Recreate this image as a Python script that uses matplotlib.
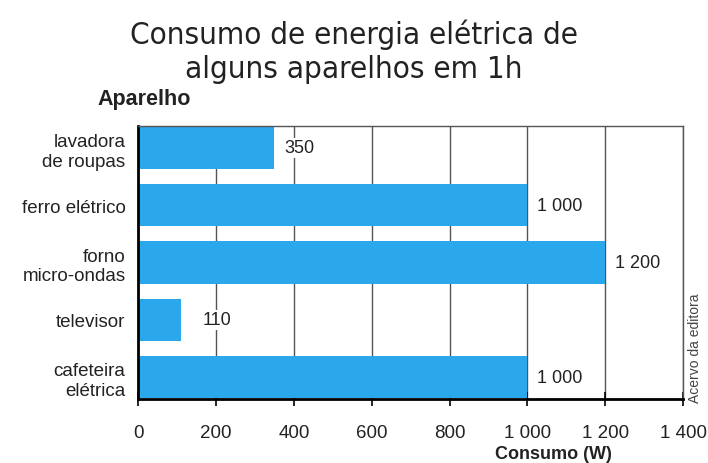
import matplotlib.pyplot as plt

aparelhos = ['lavadora\nde roupas', 'ferro elétrico', 'forno\nmicro-ondas', 'televisor', 'cafeteira\nelétrica']
consumo = [350, 1000, 1200, 110, 1000]
rotulos = ['350', '1 000', '1 200', '110', '1 000']
xticks = [0, 200, 400, 600, 800, 1000, 1200, 1400]
xtick_labels = ['0', '200', '400', '600', '800', '1 000', '1 200', '1 400']

plt.rcParams['font.family'] = ['Liberation Sans', 'DejaVu Sans']

fig = plt.figure(figsize=(7.08, 4.64), dpi=100)
ax = fig.add_axes([0.195, 0.138, 0.770, 0.588])

pos = list(range(len(aparelhos)))
ax.barh(pos, consumo, height=0.74, color='#2ba8ec', zorder=2)
for p, v, r in zip(pos, consumo, rotulos):
    # televisor label sits a bit further out in the original
    dx = 55 if v < 200 else 25
    ax.text(v + dx, p, r, va='center', ha='left', fontsize=13, color='#222222', zorder=3,
            bbox=dict(facecolor='white', edgecolor='none', pad=1))

ax.set_xlim(0, 1400)
ax.set_ylim(len(aparelhos) - 0.62, -0.38)
ax.set_yticks(pos)
ax.set_yticklabels(aparelhos, fontsize=13.5, color='#222222')
ax.set_xticks(xticks)
ax.set_xticklabels(xtick_labels, fontsize=13.5, color='#222222')
ax.tick_params(axis='y', length=0, pad=9)
ax.tick_params(axis='x', direction='inout', length=10, width=1.2, pad=13)

ax.grid(axis='x', color='#555555', linewidth=1.0, zorder=1)
ax.set_axisbelow(True)
for s in ['top', 'right']:
    ax.spines[s].set_color('#555555')
    ax.spines[s].set_linewidth(1.0)
ax.spines['left'].set_linewidth(2)
ax.spines['bottom'].set_linewidth(2)

fig.text(0.5, 0.888, 'Consumo de energia elétrica de\nalguns aparelhos em 1h', ha='center', va='center',
         fontsize=22.5, family='DejaVu Sans', stretch='condensed', linespacing=1.2, color='#222222')
fig.text(0.138, 0.785, 'Aparelho', ha='left', va='center', fontsize=15.5, fontweight='bold', color='#222222')
fig.text(0.781, 0.02, 'Consumo (W)', ha='center', va='center', fontsize=13, fontweight='bold', color='#222222')
fig.text(0.982, 0.25, 'Acervo da editora', ha='center', va='center', rotation=90, fontsize=10, color='#444444')

fig.savefig('out.png', dpi=100)
